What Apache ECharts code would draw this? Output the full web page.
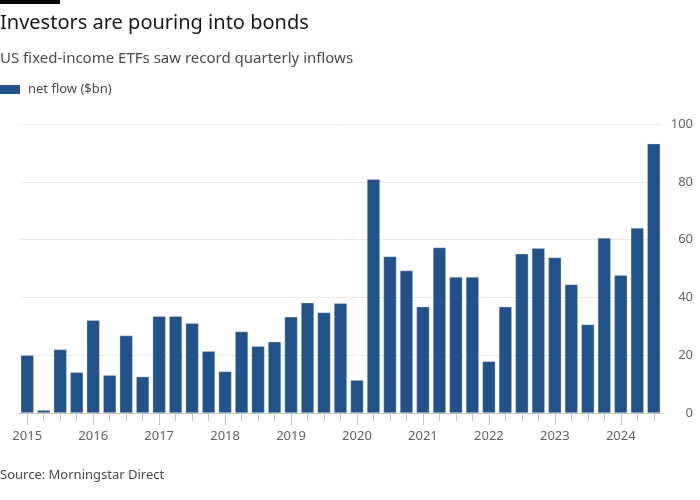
<!DOCTYPE html>
<html>
<head>
<meta charset="utf-8">
<script src="https://cdn.jsdelivr.net/npm/echarts@6/dist/echarts.min.js"></script>
<style>html,body{margin:0;padding:0;background:#fff}#c{width:700px;height:500px}</style>
</head>
<body>
<div id="c"></div>
<script>
const quarters = [
  '2015 Q1','2015 Q2','2015 Q3','2015 Q4',
  '2016 Q1','2016 Q2','2016 Q3','2016 Q4',
  '2017 Q1','2017 Q2','2017 Q3','2017 Q4',
  '2018 Q1','2018 Q2','2018 Q3','2018 Q4',
  '2019 Q1','2019 Q2','2019 Q3','2019 Q4',
  '2020 Q1','2020 Q2','2020 Q3','2020 Q4',
  '2021 Q1','2021 Q2','2021 Q3','2021 Q4',
  '2022 Q1','2022 Q2','2022 Q3','2022 Q4',
  '2023 Q1','2023 Q2','2023 Q3','2023 Q4',
  '2024 Q1','2024 Q2','2024 Q3'
];
const netFlow = [
  20.0, 1.0, 22.0, 14.1,
  32.1, 13.1, 26.8, 12.6,
  33.5, 33.5, 31.1, 21.4,
  14.4, 28.2, 23.1, 24.7,
  33.3, 38.2, 34.8, 38.0,
  11.4, 80.9, 54.2, 49.3,
  36.8, 57.3, 47.1, 47.1,
  17.9, 36.8, 55.1, 57.0,
  53.8, 44.5, 30.6, 60.6,
  47.7, 64.0, 93.2
];
const yTicks = [0, 20, 40, 60, 80, 100];

const FONT = '"Noto Sans", sans-serif';
const chart = echarts.init(document.getElementById('c'), null, {renderer: 'canvas'});
chart.setOption({
  animation: false,
  backgroundColor: '#ffffff',
  textStyle: {fontFamily: FONT},
  graphic: [
    {type: 'rect', left: 0, top: 0, shape: {width: 60, height: 4}, style: {fill: '#000'}}
  ],
  title: [
    {text: 'Investors are pouring into bonds', left: -5, top: 8,
     textStyle: {fontFamily: FONT, fontSize: 20, fontWeight: 'normal', color: '#1a1817'}},
    {text: 'US fixed-income ETFs saw record quarterly inflows', left: -5, top: 46,
     textStyle: {fontFamily: FONT, fontSize: 15, fontWeight: 'normal', color: '#4d4845'}},
    {text: 'Source: Morningstar Direct', left: -5, top: 464,
     textStyle: {fontFamily: FONT, fontSize: 13, fontWeight: 'normal', color: '#4d4845'}}
  ],
  legend: {
    left: 0, top: 83, padding: 0, icon: 'rect', itemWidth: 20, itemHeight: 9, itemGap: 8,
    itemStyle: {borderWidth: 0},
    textStyle: {fontFamily: FONT, fontSize: 13, color: '#4d4845', padding: [0, 0, 0, 3]},
    data: ['net flow ($bn)']
  },
  grid: {left: 19, right: 38, top: 124, bottom: 87, containLabel: false},
  xAxis: [
    {
      type: 'category', data: quarters, position: 'bottom',
      axisLine: {show: true, lineStyle: {color: '#c9c4bf', width: 1}},
      axisTick: {show: true, alignWithLabel: true, interval: 0, length: 8, lineStyle: {color: '#c9c4bf'}},
      axisLabel: {show: false},
      splitLine: {show: false}
    },
    {
      type: 'category', data: quarters, position: 'bottom',
      axisLine: {show: false},
      axisTick: {show: true, alignWithLabel: true, length: 12, lineStyle: {color: '#c9c4bf'},
                 interval: function (i) { return i % 4 === 0; }},
      axisLabel: {show: true, margin: 17, fontFamily: FONT, fontSize: 13, color: '#66605c',
                  interval: function (i) { return i % 4 === 0; },
                  formatter: function (v) { return v.slice(0, 4); }},
      splitLine: {show: false}
    }
  ],
  yAxis: {
    type: 'value', position: 'right', min: 0, max: 100, interval: 20,
    axisLine: {show: false}, axisTick: {show: false},
    axisLabel: {align: 'right', margin: 31, fontFamily: FONT, fontSize: 13, color: '#66605c',
                formatter: function (v) { return yTicks.indexOf(v) >= 0 ? String(v) : ''; }},
    splitLine: {lineStyle: {color: '#ebe8e5', width: 1}}
  },
  series: [{
    name: 'net flow ($bn)', type: 'bar', xAxisIndex: 0, data: netFlow,
    barCategoryGap: '21%',
    itemStyle: {color: '#21528a', borderColor: 'rgba(220,225,235,0.6)', borderWidth: 0.6}
  }]
});
</script>
</body>
</html>
